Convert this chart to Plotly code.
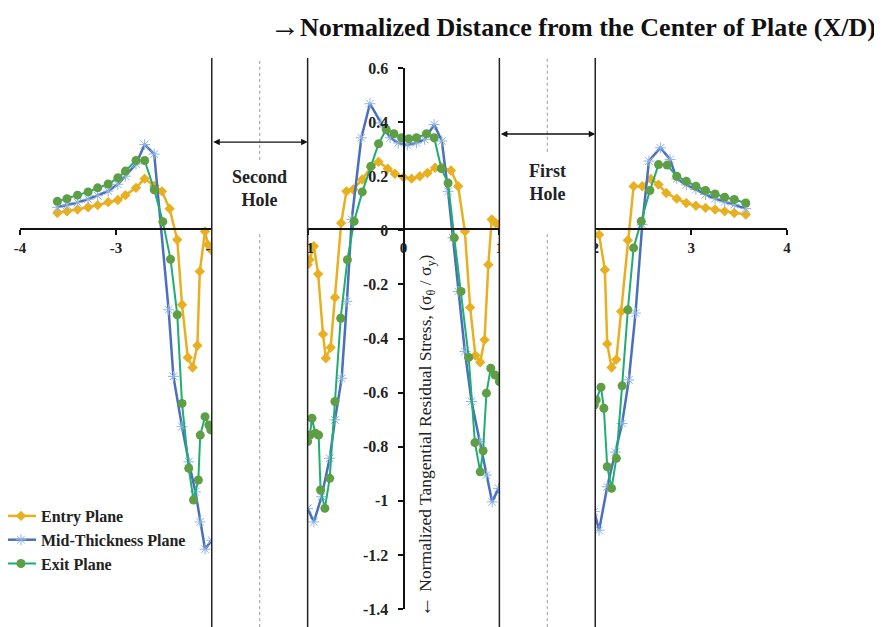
import plotly.graph_objects as go

# ---------------- data ----------------
# Entry Plane
entry_left_x = [-3.61, -3.51, -3.40, -3.29, -3.19, -3.08, -2.98, -2.90, -2.79, -2.70, -2.60, -2.52, -2.44, -2.36, -2.31, -2.25, -2.20, -2.15, -2.125, -2.07, -2.04, -2.01]
entry_left_y = [0.064, 0.070, 0.077, 0.085, 0.093, 0.104, 0.112, 0.130, 0.157, 0.191, 0.165, 0.144, 0.080, -0.035, -0.275, -0.470, -0.507, -0.426, -0.152, -0.004, -0.053, -0.071]
entry_mid_x = [-1.00, -0.98, -0.935, -0.89, -0.84, -0.81, -0.76, -0.715, -0.65, -0.595, -0.525, -0.43, -0.34, -0.26, -0.165, -0.09, 0.0, 0.085, 0.17, 0.25, 0.33, 0.40, 0.495, 0.57, 0.64, 0.695, 0.75, 0.80, 0.845, 0.885, 0.92, 0.96, 0.995]
entry_mid_y = [-0.127, -0.109, -0.059, -0.162, -0.384, -0.473, -0.433, -0.248, 0.027, 0.144, 0.151, 0.188, 0.233, 0.253, 0.228, 0.209, 0.196, 0.191, 0.200, 0.212, 0.231, 0.233, 0.221, 0.163, -0.004, -0.285, -0.463, -0.488, -0.405, -0.127, 0.040, 0.027, 0.021]
entry_right_x = [1.99, 2.04, 2.10, 2.125, 2.17, 2.22, 2.27, 2.34, 2.40, 2.49, 2.58, 2.66, 2.74, 2.85, 2.95, 3.05, 3.15, 3.25, 3.35, 3.45, 3.57]
entry_right_y = [-0.016, -0.016, -0.146, -0.420, -0.507, -0.478, -0.300, -0.037, 0.163, 0.163, 0.190, 0.169, 0.138, 0.117, 0.101, 0.091, 0.083, 0.077, 0.070, 0.064, 0.058]

# Mid-Thickness Plane
mid_left_x = [-3.61, -3.51, -3.40, -3.29, -3.19, -3.08, -2.98, -2.90, -2.79, -2.70, -2.60, -2.45, -2.40, -2.31, -2.24, -2.17, -2.12, -2.07, -2.00]
mid_left_y = [0.085, 0.093, 0.103, 0.115, 0.128, 0.145, 0.170, 0.200, 0.245, 0.317, 0.282, -0.294, -0.540, -0.726, -0.856, -0.967, -1.078, -1.179, -1.146]
mid_mid_x = [-1.00, -0.935, -0.855, -0.77, -0.715, -0.645, -0.59, -0.54, -0.44, -0.35, -0.235, -0.14, -0.055, 0.04, 0.135, 0.22, 0.32, 0.40, 0.465, 0.515, 0.57, 0.64, 0.71, 0.795, 0.865, 0.925, 0.99]
mid_mid_y = [-1.028, -1.078, -0.985, -0.843, -0.701, -0.547, -0.263, 0.040, 0.342, 0.468, 0.397, 0.342, 0.323, 0.315, 0.323, 0.336, 0.391, 0.330, 0.144, -0.028, -0.226, -0.448, -0.633, -0.781, -0.905, -1.004, -0.954]
mid_right_x = [1.99, 2.04, 2.125, 2.21, 2.28, 2.35, 2.42, 2.49, 2.56, 2.68, 2.78, 2.85, 2.95, 3.05, 3.15, 3.25, 3.35, 3.45, 3.57]
mid_right_y = [-1.040, -1.109, -0.948, -0.820, -0.714, -0.553, -0.306, 0.021, 0.256, 0.305, 0.262, 0.190, 0.168, 0.151, 0.132, 0.117, 0.105, 0.095, 0.080]

# Exit Plane
exit_left_x = [-3.61, -3.51, -3.40, -3.29, -3.19, -3.08, -2.98, -2.90, -2.79, -2.70, -2.60, -2.51, -2.43, -2.36, -2.31, -2.24, -2.19, -2.14, -2.12, -2.07, -2.03, -2.01]
exit_left_y = [0.107, 0.117, 0.130, 0.142, 0.157, 0.171, 0.194, 0.219, 0.258, 0.258, 0.150, 0.032, -0.107, -0.312, -0.640, -0.880, -0.997, -0.923, -0.757, -0.689, -0.720, -0.738]
exit_mid_x = [-1.00, -0.976, -0.955, -0.92, -0.885, -0.865, -0.82, -0.77, -0.715, -0.655, -0.585, -0.515, -0.43, -0.34, -0.26, -0.18, -0.10, -0.02, 0.055, 0.135, 0.24, 0.32, 0.395, 0.465, 0.53, 0.60, 0.68, 0.745, 0.80, 0.83, 0.865, 0.91, 0.955, 1.00]
exit_mid_y = [-0.781, -0.757, -0.695, -0.750, -0.757, -0.960, -1.028, -0.917, -0.633, -0.325, -0.109, 0.033, 0.142, 0.237, 0.320, 0.373, 0.357, 0.342, 0.338, 0.342, 0.357, 0.342, 0.228, 0.175, -0.028, -0.226, -0.470, -0.785, -0.893, -0.815, -0.602, -0.510, -0.535, -0.559]
exit_right_x = [1.99, 2.01, 2.06, 2.09, 2.125, 2.17, 2.22, 2.28, 2.34, 2.40, 2.48, 2.57, 2.66, 2.75, 2.85, 2.95, 3.05, 3.15, 3.25, 3.35, 3.45, 3.57]
exit_right_y = [-0.646, -0.627, -0.580, -0.658, -0.874, -0.954, -0.843, -0.575, -0.294, -0.065, 0.033, 0.147, 0.243, 0.241, 0.200, 0.181, 0.163, 0.147, 0.134, 0.122, 0.114, 0.101]

x_tick_vals = [-4, -3, -2, -1, 0, 1, 2, 3, 4]
x_tick_text = ["-4", "-3", "-2", "-1", "0", "1", "2", "3", "4"]
y_tick_vals = [-1.4, -1.2, -1.0, -0.8, -0.6, -0.4, -0.2, 0.0, 0.2, 0.4, 0.6]
y_tick_text = ["-1.4", "-1.2", "-1", "-0.8", "-0.6", "-0.4", "-0.2", "0", "0.2", "0.4", "0.6"]

holes = [(-2, -1, "Second<br>Hole", 0.156, 0.326), (1, 2, "First<br>Hole", 0.178, 0.356)]

SERIF = "Liberation Serif"

# layout geometry (screen pixels; page body has an 8px margin)
OFF = 8
W, H = 882 - OFF, 627 - OFF
PL, PR, PT, PB = 20 - OFF, 787 - OFF, 68 - OFF, 609 - OFF   # plot area edges in figure px
ML, MR = 0, W - PR
paper_w = W - ML - MR
paper_h = PB - PT


def px_x(sx):
    return (sx - OFF - ML) / paper_w


def px_y(sy):
    return (PB - (sy - OFF)) / paper_h


def join(*parts):
    xs, ys = [], []
    for i, (px, py) in enumerate(parts):
        if i:
            xs.append(None)
            ys.append(None)
        xs += px
        ys += py
    return xs, ys


fig = go.Figure()

ex, ey = join((entry_left_x, entry_left_y), (entry_mid_x, entry_mid_y), (entry_right_x, entry_right_y))
mx, my = join((mid_left_x, mid_left_y), (mid_mid_x, mid_mid_y), (mid_right_x, mid_right_y))
gx, gy = join((exit_left_x, exit_left_y), (exit_mid_x, exit_mid_y), (exit_right_x, exit_right_y))

fig.add_trace(go.Scatter(x=ex, y=ey, mode="lines+markers", name="Entry Plane",
                         line=dict(color="#E8B020", width=2.5),
                         marker=dict(symbol="diamond", size=8, color="#E8B020")))
fig.add_trace(go.Scatter(x=mx, y=my, mode="lines+markers", name="Mid-Thickness Plane",
                         line=dict(color="#4A6FBE", width=2.5),
                         marker=dict(symbol="asterisk-open", size=9, color="#8FB3E3",
                                     line=dict(width=1, color="#8FB3E3"))))
fig.add_trace(go.Scatter(x=gx, y=gy, mode="lines+markers", name="Exit Plane",
                         line=dict(color="#1FAE72", width=2),
                         marker=dict(symbol="circle", size=9, color="#5E9E45")))

shapes = []
top = px_y(58)
for x0, x1, label, ly, ay in holes:
    shapes.append(dict(type="rect", xref="x", yref="paper", x0=x0, x1=x1, y0=-0.1, y1=top,
                       fillcolor="white", line=dict(width=0), layer="above"))
    for xv in (x0, x1):
        shapes.append(dict(type="line", xref="x", yref="paper", x0=xv, x1=xv, y0=-0.1, y1=top,
                           line=dict(color="#222", width=1.5), layer="above"))
    xc = (x0 + x1) / 2
    shapes.append(dict(type="line", xref="x", yref="paper", x0=xc, x1=xc,
                       y0=px_y(229 - (ay - 0.07) * 270), y1=top,
                       line=dict(color="#999", width=1, dash="dot"), layer="above"))
    shapes.append(dict(type="line", xref="x", yref="paper", x0=xc, x1=xc, y0=-0.1,
                       y1=px_y(234),
                       line=dict(color="#999", width=1, dash="dot"), layer="above"))
    fig.add_annotation(x=x1, y=ay, ax=x0, ay=ay, xref="x", yref="y", axref="x", ayref="y",
                       text="", showarrow=True, arrowhead=2, startarrowhead=2, arrowside="end+start",
                       arrowsize=1, arrowwidth=1.3, arrowcolor="#111")
    fig.add_annotation(x=xc, y=ly, xref="x", yref="y", text=label, showarrow=False,
                       font=dict(family=SERIF, size=18, color="#222", weight="bold"),
                       bgcolor="white")

fig.add_annotation(x=px_x(878), y=px_y(25), xref="paper", yref="paper",
                   xanchor="right", yanchor="middle", showarrow=False,
                   text="<span style='font-size:30px'>→</span>Normalized Distance from the Center of Plate (X/D)",
                   font=dict(family=SERIF, size=26, color="#111", weight="bold"))
fig.add_annotation(x=px_x(425), y=px_y(435), xref="paper", yref="paper",
                   xanchor="center", yanchor="middle", showarrow=False, textangle=-90,
                   text="<span style='font-size:21px'>←</span> Normalized Tangential Residual Stress, (σ<sub>θ</sub> / σ<sub>y</sub>)",
                   font=dict(family=SERIF, size=17.5, color="#222"))

fig.update_layout(
    width=W, height=H,
    margin=dict(l=ML, r=MR, t=PT, b=H - PB, autoexpand=False),
    paper_bgcolor="white", plot_bgcolor="white",
    shapes=shapes,
    showlegend=True,
    legend=dict(x=px_x(1), y=px_y(540), xanchor="left", yanchor="middle", bgcolor="rgba(0,0,0,0)",
                font=dict(family=SERIF, size=16, color="#222", weight="bold"),
                tracegroupgap=0, itemwidth=30),
    xaxis=dict(range=[-4, 4], domain=[px_x(20), px_x(787)],
               tickvals=x_tick_vals, ticktext=x_tick_text,
               anchor="free", position=px_y(229), showgrid=False, zeroline=False,
               showline=True, linecolor="#111", linewidth=2,
               ticks="outside", ticklen=5, tickwidth=1.5, tickcolor="#111",
               tickfont=dict(family=SERIF, size=15, color="#222", weight="bold")),
    yaxis=dict(range=[-1.4, 0.6], domain=[0, 1], tickvals=y_tick_vals, ticktext=y_tick_text,
               anchor="free", position=(px_x(20) + px_x(787)) / 2, showgrid=False, zeroline=False,
               showline=True, linecolor="#111", linewidth=2,
               ticks="outside", ticklen=5, tickwidth=1.5, tickcolor="#111",
               ticklabelstandoff=6,
               tickfont=dict(family=SERIF, size=16, color="#222", weight="bold")),
)

fig.write_html("out.html")
